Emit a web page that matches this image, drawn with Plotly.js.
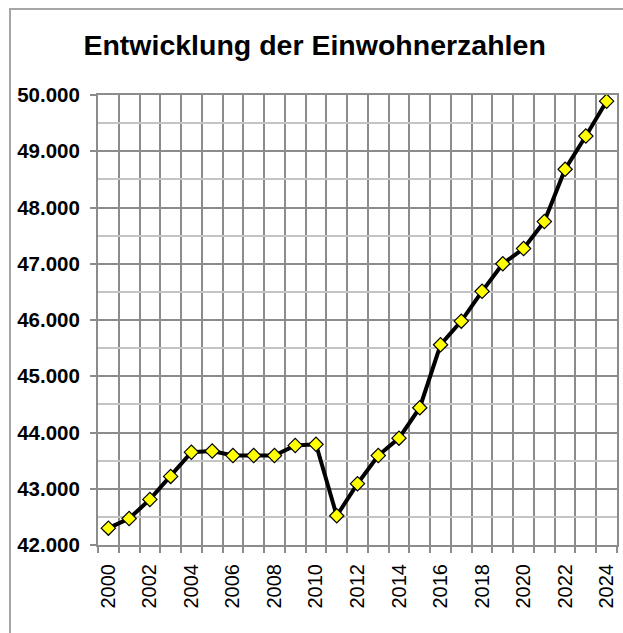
<!DOCTYPE html>
<html>
<head>
<meta charset="utf-8">
<script src="https://cdn.plot.ly/plotly-3.0.1.min.js"></script>
<style>
  html, body { margin: 0; padding: 0; overflow: hidden; background: #fff; }
  #wrap { position: relative; width: 623px; height: 633px; }
  #chart { width: 623px; height: 633px; }
  #frame { position: absolute; left: 9px; top: 8px; width: 800px; height: 800px;
           border: 2px solid #a6a6a6; pointer-events: none; }
</style>
</head>
<body>
<div id="wrap">
  <div id="chart"></div>
  <div id="frame"></div>
</div>
<script>
const years = [2000, 2001, 2002, 2003, 2004, 2005, 2006, 2007, 2008, 2009, 2010, 2011, 2012,
               2013, 2014, 2015, 2016, 2017, 2018, 2019, 2020, 2021, 2022, 2023, 2024];
const einwohner = [42300, 42470, 42810, 43220, 43650, 43670, 43590, 43590, 43590, 43770, 43790, 42520, 43090,
                   43590, 43900, 44440, 45560, 45980, 46510, 47000, 47270, 47750, 48680, 49270, 49890];
const tickYears = [2000, 2002, 2004, 2006, 2008, 2010, 2012, 2014, 2016, 2018, 2020, 2022, 2024];
const titleText = 'Entwicklung der Einwohnerzahlen';

const trace = {
  x: years,
  y: einwohner,
  type: 'scatter',
  mode: 'lines+markers',
  line: { color: '#000000', width: 4 },
  marker: { symbol: 'diamond', size: 11, color: '#ffff00', line: { color: '#000000', width: 1.2 } },
  hoverinfo: 'skip'
};

const layout = {
  width: 623,
  height: 633,
  margin: { l: 98, r: 6, t: 95, b: 88 },
  paper_bgcolor: '#ffffff',
  plot_bgcolor: '#ffffff',
  separators: ',.',
  showlegend: false,
  font: { family: 'Liberation Sans, Arial, sans-serif', color: '#000000' },
  title: {
    text: '<b>' + titleText + '</b>',
    font: { family: 'Liberation Sans, Arial, sans-serif', size: 28.5, color: '#000000' },
    x: 0.505, xanchor: 'center',
    y: 1 - 45 / 633, yref: 'container', yanchor: 'middle'
  },
  xaxis: {
    type: 'linear',
    range: [1999.5, 2024.5],
    tickmode: 'array',
    tickvals: tickYears,
    ticktext: tickYears.map(String),
    tickangle: -90,
    ticks: '',
    tickfont: { size: 20, color: '#000000' },
    ticklabelstandoff: 9,
    showgrid: false,
    zeroline: false,
    showline: true,
    linecolor: '#8c8c8c',
    linewidth: 2,
    mirror: true,
    minor: {
      tick0: 1999.5,
      dtick: 1,
      showgrid: true,
      gridcolor: '#8c8c8c',
      gridwidth: 2,
      ticks: 'outside',
      ticklen: 6,
      tickcolor: '#8c8c8c',
      tickwidth: 2
    },
    fixedrange: true
  },
  yaxis: {
    range: [42000, 50000],
    tick0: 42000,
    dtick: 1000,
    tickformat: ',d',
    tickfont: { size: 20.5, color: '#000000', weight: 'bold' },
    ticks: 'outside',
    ticklen: 6,
    tickcolor: '#8c8c8c',
    tickwidth: 2,
    ticklabelstandoff: 6,
    showgrid: true,
    gridcolor: '#8c8c8c',
    gridwidth: 2,
    zeroline: false,
    showline: true,
    linecolor: '#8c8c8c',
    linewidth: 2,
    mirror: true,
    minor: {
      dtick: 500,
      showgrid: true,
      gridcolor: '#c4c4c4',
      gridwidth: 2,
      ticks: ''
    },
    fixedrange: true
  }
};

Plotly.newPlot('chart', [trace], layout, { displayModeBar: false, staticPlot: true });
</script>
</body>
</html>
